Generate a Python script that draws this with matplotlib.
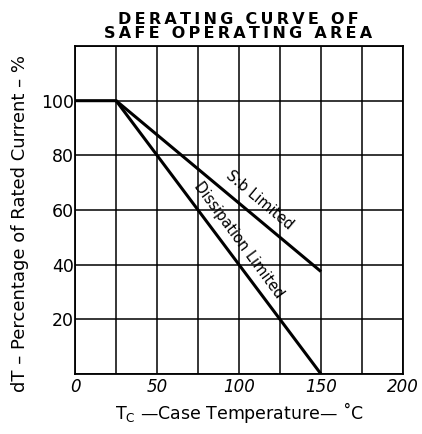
import numpy as np
import matplotlib
matplotlib.use('Agg')
from matplotlib import pyplot as plt

# data
temp_dis = [0, 25, 150]
pct_dis = [100, 100, 0]
temp_sb = [25, 150]
pct_sb = [100, 37.5]
xticks = [0, 50, 100, 150, 200]
yticks = [20, 40, 60, 80, 100]

fig = plt.figure(figsize=(4.22, 4.34), dpi=100)
ax = fig.add_axes([0.178, 0.138, 0.777, 0.756])

ax.plot(temp_dis, pct_dis, color='black', lw=2.2, solid_capstyle='butt')
ax.plot(temp_sb, pct_sb, color='black', lw=2.2, solid_capstyle='butt')

ax.set_xlim(0, 200)
ax.set_ylim(0, 120)
ax.set_xticks(np.arange(0, 201, 25))
ax.set_xticklabels(['' if v not in xticks else str(v) for v in range(0, 201, 25)],
                   style='italic', fontsize=12)
ax.set_yticks([0] + yticks + [120])
ax.set_yticklabels([''] + [str(v) for v in yticks] + [''], fontsize=12.5)
ax.tick_params(axis='x', length=0, pad=3)
ax.tick_params(axis='y', length=0, pad=1)
ax.grid(True, color='black', lw=1.1)
for s in ax.spines.values():
    s.set_linewidth(1.3)

# labels sit just outside (above/right of) their lines
ax.text(112.5, 63.5, 'S:b Limited', rotation=-40, ha='center', va='center', fontsize=10.5)
ax.text(99.5, 49, 'Dissipation Limited', rotation=-53.6, ha='center', va='center',
        fontsize=10.5)

ax.set_xlabel('T$_\\mathregular{C}$ \u2014Case Temperature\u2014 \u02daC', fontsize=12.5, labelpad=3)
ax.set_ylabel('dT \u2013 Percentage of Rated Current \u2013 %', fontsize=13)
ax.yaxis.set_label_coords(-0.14, 0.46)

sp = '\u2009'
t1 = sp.join('DERATING CURVE OF')
t2 = sp.join('SAFE OPERATING AREA')
fig.text(0.565, 0.905, t1 + '\n' + t2, ha='center', va='bottom',
         fontsize=11.5, fontweight='bold', linespacing=0.95)

fig.savefig('out.png', dpi=100)
